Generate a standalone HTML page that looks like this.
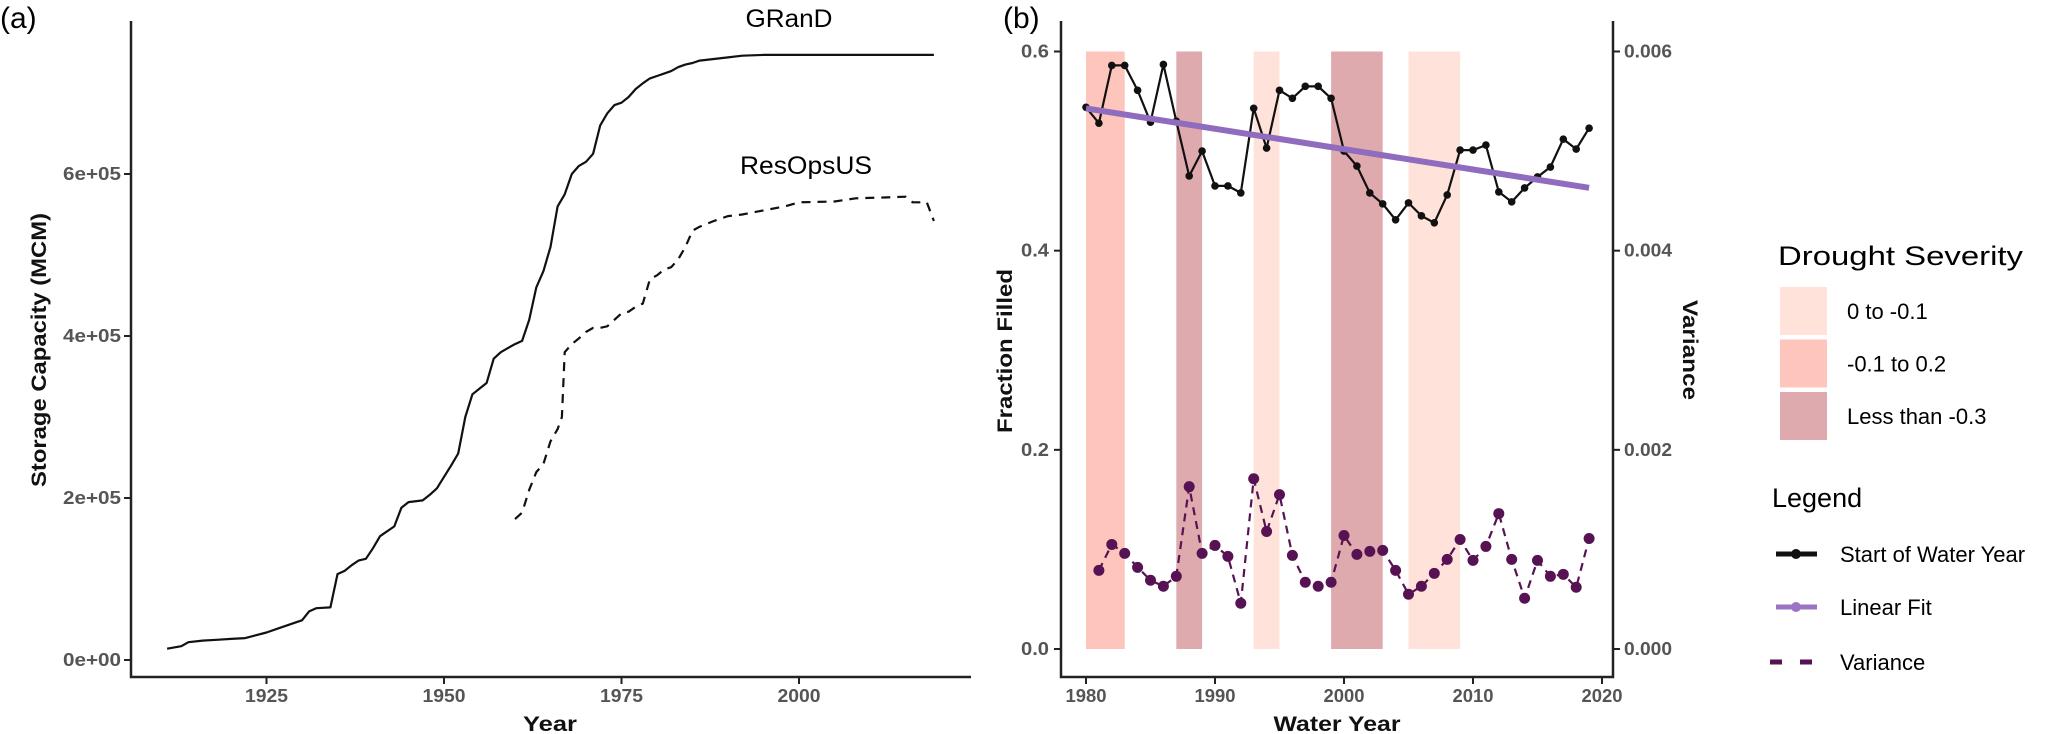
<!DOCTYPE html>
<html><head><meta charset="utf-8"><style>
html,body{margin:0;padding:0;background:#fff;}
svg{display:block;font-family:"Liberation Sans",Arial,sans-serif;}
.tk{font-weight:bold;fill:#555;font-size:18px;}
.ttl{font-weight:bold;fill:#111;font-size:21px;}
</style></head><body>
<svg id="c" width="2067" height="734" viewBox="0 0 2067 734" xmlns="http://www.w3.org/2000/svg">
<g id="pa"></g>
<g id="pb"></g>
<g id="lg"></g>
</svg>
<script>
// ---- Panel (a) data ----
const grandYears = [1911,1913,1914,1916,1918,1920,1922,1925,1927,1929,1930,1931,1932,1934,1935,1936,1937,1938,1939,1940,1941,1943,1944,1945,1947,1948,1949,1950,1951,1952,1953,1954,1955,1956,1957,1958,1959,1960,1961,1962,1963,1964,1965,1966,1967,1968,1969,1970,1971,1972,1973,1974,1975,1976,1977,1978,1979,1980,1981,1982,1983,1984,1985,1986,1988,1990,1992,1995,2000,2019];
const grandValues = [0.14,0.17,0.22,0.24,0.25,0.26,0.27,0.34,0.40,0.46,0.49,0.60,0.64,0.65,1.06,1.10,1.17,1.23,1.25,1.38,1.53,1.65,1.88,1.95,1.97,2.04,2.12,2.26,2.40,2.55,3.00,3.28,3.35,3.42,3.72,3.80,3.85,3.90,3.94,4.20,4.60,4.80,5.10,5.60,5.75,6.00,6.10,6.15,6.25,6.60,6.75,6.85,6.88,6.95,7.05,7.12,7.18,7.21,7.24,7.27,7.32,7.35,7.37,7.40,7.42,7.44,7.46,7.47,7.47,7.47];
const resYears = [1960,1961,1962,1963,1964,1965,1966,1966.6,1967,1968,1969,1970,1971,1972,1973,1974,1975,1976,1977,1978,1979,1980,1981,1982,1983,1984,1985,1986,1988,1990,1992,1995,1998,2000,2005,2008,2012,2015,2016,2018,2019];
const resValues = [1.74,1.82,2.10,2.32,2.42,2.70,2.85,3.00,3.80,3.90,3.97,4.05,4.10,4.10,4.12,4.20,4.28,4.30,4.36,4.40,4.70,4.75,4.82,4.85,4.95,5.10,5.30,5.35,5.42,5.48,5.50,5.55,5.60,5.65,5.66,5.70,5.71,5.72,5.65,5.65,5.42];
const aYTicks = [0,2,4,6];
const aYTickLabels = ["0e+00","2e+05","4e+05","6e+05"];
const aXTicks = [1925,1950,1975,2000];

// ---- Panel (b) data ----
const waterYears = [1980,1981,1982,1983,1984,1985,1986,1987,1988,1989,1990,1991,1992,1993,1994,1995,1996,1997,1998,1999,2000,2001,2002,2003,2004,2005,2006,2007,2008,2009,2010,2011,2012,2013,2014,2015,2016,2017,2018,2019];
const fractionFilled = [0.544,0.528,0.586,0.586,0.561,0.529,0.587,0.530,0.475,0.500,0.465,0.465,0.458,0.543,0.503,0.561,0.553,0.565,0.565,0.553,0.500,0.485,0.458,0.447,0.431,0.448,0.435,0.428,0.456,0.501,0.501,0.506,0.459,0.449,0.463,0.474,0.484,0.512,0.502,0.523];
const varYears = [1981,1982,1983,1984,1985,1986,1987,1988,1989,1990,1991,1992,1993,1994,1995,1996,1997,1998,1999,2000,2001,2002,2003,2004,2005,2006,2007,2008,2009,2010,2011,2012,2013,2014,2015,2016,2017,2018,2019];
const varianceValues = [0.00079,0.00105,0.00096,0.00082,0.00069,0.00063,0.00073,0.00163,0.00096,0.00104,0.00093,0.00046,0.00171,0.00118,0.00155,0.00094,0.00067,0.00063,0.00067,0.00114,0.00095,0.00098,0.00099,0.00079,0.00055,0.00063,0.00076,0.00090,0.00110,0.00089,0.00103,0.00136,0.00090,0.00051,0.00089,0.00073,0.00075,0.00062,0.00111];
const droughtStart = [1980,1987,1993,1999,2005];
const droughtEnd = [1983,1989,1995,2003,2009];
const droughtClass = [1,2,0,2,0];
const droughtColors = ["#ffe3da","#fdc5bc","#dfaaae"];
const droughtLabels = ["0 to -0.1","-0.1 to 0.2","Less than -0.3"];
const bYTicks = [0,0.2,0.4,0.6];
const bYTickLabels = ["0.0","0.2","0.4","0.6"];
const bY2TickLabels = ["0.000","0.002","0.004","0.006"];
const bXTicks = [1980,1990,2000,2010,2020];

const NS = "http://www.w3.org/2000/svg";
function mk(parent, tag, attrs, text){
  const e = document.createElementNS(NS, tag);
  for (const k in attrs) e.setAttribute(k, attrs[k]);
  if (text !== undefined) e.textContent = text;
  parent.appendChild(e);
  return e;
}
const pa = document.getElementById('pa');
const pb = document.getElementById('pb');
const lg = document.getElementById('lg');

// ===== Panel A =====
const ax = y => 89 + (y - 1900) * (177.5/25);
const ay = v => 660 - v * 81;
let t;
t = mk(pa,'text',{x:0,y:28,'font-size':30});
t.textContent='(a)';
 
let el;
el = mk(pa,'path',{d:'M131 21 V677 H971',stroke:'#222','stroke-width':2.5,fill:'none'});
 
aYTicks.forEach((v,i)=>{
  const y = ay(v);
  const tk = mk(pa,'line',{x1:124,x2:131,y1:y,y2:y,stroke:'#222','stroke-width':2});
   
  const lb = mk(pa,'text',{x:121,y:y+6,'text-anchor':'end',class:'tk',textLength:58,lengthAdjust:'spacingAndGlyphs'}, aYTickLabels[i]);
   
});
aXTicks.forEach(v=>{
  const x = ax(v);
  const tk = mk(pa,'line',{x1:x,x2:x,y1:677,y2:684,stroke:'#222','stroke-width':2});
   
  const lb = mk(pa,'text',{x:x,y:702,'text-anchor':'middle',class:'tk',textLength:43,lengthAdjust:'spacingAndGlyphs'}, String(v));
   
});
el = mk(pa,'text',{x:550,y:731,'text-anchor':'middle',class:'ttl',textLength:54,lengthAdjust:'spacingAndGlyphs'},'Year');
 
el = mk(pa,'text',{x:0,y:0,'text-anchor':'middle',class:'ttl',transform:'translate(46 350) rotate(-90)',textLength:274,lengthAdjust:'spacingAndGlyphs'},'Storage Capacity (MCM)');
 
el = mk(pa,'path',{d:grandYears.map((y,i)=>(i?'L':'M')+ax(y).toFixed(1)+' '+ay(grandValues[i]).toFixed(1)).join(' '),stroke:'#111','stroke-width':2.2,fill:'none','stroke-linejoin':'round'});
 
el = mk(pa,'path',{d:resYears.map((y,i)=>(i?'L':'M')+ax(y).toFixed(1)+' '+ay(resValues[i]).toFixed(1)).join(' '),stroke:'#111','stroke-width':2.2,fill:'none','stroke-dasharray':'9 7'});
 
el = mk(pa,'text',{x:789,y:27,'text-anchor':'middle','font-size':25,textLength:87,lengthAdjust:'spacingAndGlyphs'},'GRanD');
 
el = mk(pa,'text',{x:806,y:174,'text-anchor':'middle','font-size':25,textLength:132,lengthAdjust:'spacingAndGlyphs'},'ResOpsUS');
 

// ===== Panel B =====
const bx = y => 1086 + (y - 1980) * (516/40);
const by = v => 649 - v * (597.5/0.6);
const by2 = v => by(v*100);
el = mk(pb,'text',{x:1003,y:28,'font-size':30},'(b)');
 
droughtStart.forEach((s,i)=>{
  const r = mk(pb,'rect',{x:bx(s),y:by(0.6),width:bx(droughtEnd[i])-bx(s),height:by(0)-by(0.6),fill:droughtColors[droughtClass[i]]});
   
});
el = mk(pb,'path',{d:'M1061 21 V677 H1613 V21',stroke:'#222','stroke-width':2.5,fill:'none'});
 
bYTicks.forEach((v,i)=>{
  const y = by(v);
  let tk = mk(pb,'line',{x1:1054,x2:1061,y1:y,y2:y,stroke:'#222','stroke-width':2});
   
  let lb = mk(pb,'text',{x:1049,y:y+6,'text-anchor':'end',class:'tk',textLength:28,lengthAdjust:'spacingAndGlyphs'}, bYTickLabels[i]);
   
  tk = mk(pb,'line',{x1:1613,x2:1620,y1:y,y2:y,stroke:'#222','stroke-width':2});
   
  lb = mk(pb,'text',{x:1624,y:y+6,class:'tk',textLength:48,lengthAdjust:'spacingAndGlyphs'}, bY2TickLabels[i]);
   
});
bXTicks.forEach(v=>{
  const x = bx(v);
  const tk = mk(pb,'line',{x1:x,x2:x,y1:677,y2:684,stroke:'#222','stroke-width':2});
   
  const lb = mk(pb,'text',{x:x,y:702,'text-anchor':'middle',class:'tk',textLength:41,lengthAdjust:'spacingAndGlyphs'}, String(v));
   
});
el = mk(pb,'text',{x:1337,y:731,'text-anchor':'middle',class:'ttl',textLength:127,lengthAdjust:'spacingAndGlyphs'},'Water Year');
 
el = mk(pb,'text',{x:0,y:0,'text-anchor':'middle',class:'ttl',transform:'translate(1012 351) rotate(-90)',textLength:164,lengthAdjust:'spacingAndGlyphs'},'Fraction Filled');
 
el = mk(pb,'text',{x:0,y:0,'text-anchor':'middle',class:'ttl',transform:'translate(1683 350) rotate(90)',textLength:100,lengthAdjust:'spacingAndGlyphs'},'Variance');
 

// linear fit (least squares from series)
const n = waterYears.length;
const mx = waterYears.reduce((a,b)=>a+b,0)/n, my = fractionFilled.reduce((a,b)=>a+b,0)/n;
let sxy=0,sxx=0; waterYears.forEach((x,i)=>{sxy+=(x-mx)*(fractionFilled[i]-my);sxx+=(x-mx)*(x-mx);});
const slope = sxy/sxx, icpt = my - slope*mx;
const x0 = waterYears[0], x1 = waterYears[n-1];

el = mk(pb,'path',{d:waterYears.map((y,i)=>(i?'L':'M')+bx(y).toFixed(1)+' '+by(fractionFilled[i]).toFixed(1)).join(' '),stroke:'#111','stroke-width':2.2,fill:'none'});
 
waterYears.forEach((y,i)=>{
  const c = mk(pb,'circle',{cx:bx(y),cy:by(fractionFilled[i]),r:3.8,fill:'#111'});
   
});
el = mk(pb,'line',{x1:bx(x0),y1:by(icpt+slope*x0),x2:bx(x1),y2:by(icpt+slope*x1),stroke:'#8f6cbd','stroke-width':6});
 
el = mk(pb,'path',{d:varYears.map((y,i)=>(i?'L':'M')+bx(y).toFixed(1)+' '+by2(varianceValues[i]).toFixed(1)).join(' '),stroke:'#561253','stroke-width':2.2,fill:'none','stroke-dasharray':'8 6'});
 
varYears.forEach((y,i)=>{
  const c = mk(pb,'circle',{cx:bx(y),cy:by2(varianceValues[i]),r:5.5,fill:'#561253'});
   
});

// ===== Legends =====
el = mk(lg,'text',{x:1778,y:265,'font-size':27,textLength:245,lengthAdjust:'spacingAndGlyphs'},'Drought Severity');
 
droughtLabels.forEach((l,i)=>{
  const y0 = 287 + i*52.5;
  const r = mk(lg,'rect',{x:1780,y:y0,width:47,height:48,fill:droughtColors[i]});
   
  const tx = mk(lg,'text',{x:1847,y:y0+32,'font-size':22},l);
   
});
el = mk(lg,'text',{x:1772,y:507,'font-size':27},'Legend');
 
const legY = [554,607,662];
el = mk(lg,'line',{x1:1776,x2:1817,y1:legY[0],y2:legY[0],stroke:'#111','stroke-width':5});
 
mk(lg,'circle',{cx:1796,cy:legY[0],r:5,fill:'#111'});
el = mk(lg,'line',{x1:1776,x2:1817,y1:legY[1],y2:legY[1],stroke:'#9b74c4','stroke-width':5});
 
mk(lg,'circle',{cx:1796,cy:legY[1],r:5,fill:'#9b74c4'});
el = mk(lg,'line',{x1:1770,x2:1826,y1:legY[2],y2:legY[2],stroke:'#561253','stroke-width':5,'stroke-dasharray':'12 18'});
 
["Start of Water Year","Linear Fit","Variance"].forEach((l,i)=>{
  const tx = mk(lg,'text',{x:1840,y:legY[i]+8,'font-size':22},l);
   
});
</script>
</body></html>
